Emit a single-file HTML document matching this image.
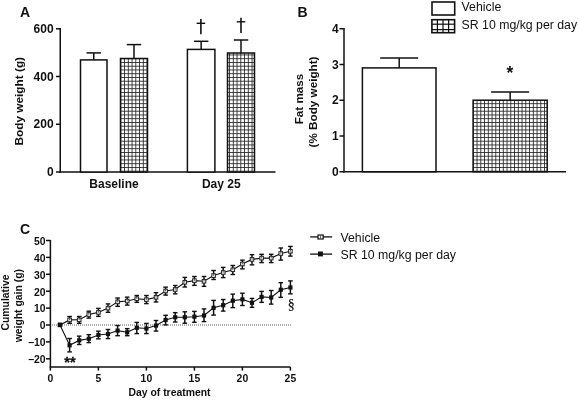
<!DOCTYPE html><html><head><meta charset="utf-8"><style>html,body{margin:0;padding:0;background:#fff;}svg{display:block;filter:grayscale(1)}</style></head><body>
<svg width="578" height="400" viewBox="0 0 578 400">
<defs>
<pattern id="grid" patternUnits="userSpaceOnUse" width="3.75" height="3.75" x="0.325" y="1.975"><rect width="3.75" height="3.75" fill="#fff"/><rect x="0" y="0" width="3.75" height="0.85" fill="#222"/><rect x="0" y="0" width="0.85" height="3.75" fill="#222"/></pattern>
</defs>
<rect width="578" height="400" fill="#fff"/>
<text x="20.00" y="16.90" font-family="Liberation Sans, sans-serif" font-size="14" font-weight="bold" text-anchor="start" fill="#111" >A</text>
<line x1="60.25" y1="28.00" x2="60.25" y2="172.75" stroke="#111" stroke-width="1.5" />
<line x1="59.50" y1="172.00" x2="275.50" y2="172.00" stroke="#111" stroke-width="1.5" />
<line x1="56.00" y1="172.00" x2="60.25" y2="172.00" stroke="#111" stroke-width="1.5" />
<text x="53.60" y="176.20" font-family="Liberation Sans, sans-serif" font-size="12" font-weight="bold" text-anchor="end" fill="#111" >0</text>
<line x1="56.00" y1="124.25" x2="60.25" y2="124.25" stroke="#111" stroke-width="1.5" />
<text x="53.60" y="128.45" font-family="Liberation Sans, sans-serif" font-size="12" font-weight="bold" text-anchor="end" fill="#111" >200</text>
<line x1="56.00" y1="76.50" x2="60.25" y2="76.50" stroke="#111" stroke-width="1.5" />
<text x="53.60" y="80.70" font-family="Liberation Sans, sans-serif" font-size="12" font-weight="bold" text-anchor="end" fill="#111" >400</text>
<line x1="56.00" y1="28.75" x2="60.25" y2="28.75" stroke="#111" stroke-width="1.5" />
<text x="53.60" y="32.95" font-family="Liberation Sans, sans-serif" font-size="12" font-weight="bold" text-anchor="end" fill="#111" >600</text>
<text transform="translate(23.2,101.2) rotate(-90)" font-family="Liberation Sans, sans-serif" font-size="11.8" font-weight="bold" text-anchor="middle" fill="#111">Body weight (g)</text>
<line x1="93.75" y1="59.90" x2="93.75" y2="52.90" stroke="#111" stroke-width="1.5" />
<line x1="86.55" y1="52.90" x2="100.95" y2="52.90" stroke="#111" stroke-width="1.5" />
<rect x="80.50" y="59.90" width="26.50" height="112.10" fill="#fff" stroke="#111" stroke-width="1.5"/>
<line x1="134.00" y1="58.50" x2="134.00" y2="44.60" stroke="#111" stroke-width="1.5" />
<line x1="126.80" y1="44.60" x2="141.20" y2="44.60" stroke="#111" stroke-width="1.5" />
<rect x="120.50" y="58.50" width="27.00" height="113.50" fill="url(#grid)" stroke="#111" stroke-width="1.5"/>
<line x1="201.15" y1="49.40" x2="201.15" y2="41.30" stroke="#111" stroke-width="1.5" />
<line x1="193.95" y1="41.30" x2="208.35" y2="41.30" stroke="#111" stroke-width="1.5" />
<rect x="187.40" y="49.40" width="27.50" height="122.60" fill="#fff" stroke="#111" stroke-width="1.5"/>
<line x1="241.00" y1="53.00" x2="241.00" y2="40.00" stroke="#111" stroke-width="1.5" />
<line x1="233.80" y1="40.00" x2="248.20" y2="40.00" stroke="#111" stroke-width="1.5" />
<rect x="227.50" y="53.00" width="27.00" height="119.00" fill="url(#grid)" stroke="#111" stroke-width="1.5"/>
<text x="114.00" y="188.00" font-family="Liberation Sans, sans-serif" font-size="12" font-weight="bold" text-anchor="middle" fill="#111" >Baseline</text>
<text x="221.30" y="188.10" font-family="Liberation Sans, sans-serif" font-size="12" font-weight="bold" text-anchor="middle" fill="#111" >Day 25</text>
<line x1="200.90" y1="18.90" x2="200.90" y2="34.20" stroke="#111" stroke-width="1.6" />
<line x1="196.60" y1="23.30" x2="205.20" y2="23.30" stroke="#111" stroke-width="1.4" />
<line x1="241.00" y1="17.70" x2="241.00" y2="33.00" stroke="#111" stroke-width="1.6" />
<line x1="236.70" y1="21.80" x2="245.30" y2="21.80" stroke="#111" stroke-width="1.4" />
<text x="297.60" y="16.90" font-family="Liberation Sans, sans-serif" font-size="14" font-weight="bold" text-anchor="start" fill="#111" >B</text>
<line x1="344.00" y1="28.00" x2="344.00" y2="172.50" stroke="#111" stroke-width="1.5" />
<line x1="343.25" y1="171.75" x2="566.00" y2="171.75" stroke="#111" stroke-width="1.5" />
<line x1="339.50" y1="171.75" x2="344.00" y2="171.75" stroke="#111" stroke-width="1.5" />
<text x="338.60" y="175.95" font-family="Liberation Sans, sans-serif" font-size="12" font-weight="bold" text-anchor="end" fill="#111" >0</text>
<line x1="339.50" y1="136.00" x2="344.00" y2="136.00" stroke="#111" stroke-width="1.5" />
<text x="338.60" y="140.20" font-family="Liberation Sans, sans-serif" font-size="12" font-weight="bold" text-anchor="end" fill="#111" >1</text>
<line x1="339.50" y1="100.25" x2="344.00" y2="100.25" stroke="#111" stroke-width="1.5" />
<text x="338.60" y="104.45" font-family="Liberation Sans, sans-serif" font-size="12" font-weight="bold" text-anchor="end" fill="#111" >2</text>
<line x1="339.50" y1="64.50" x2="344.00" y2="64.50" stroke="#111" stroke-width="1.5" />
<text x="338.60" y="68.70" font-family="Liberation Sans, sans-serif" font-size="12" font-weight="bold" text-anchor="end" fill="#111" >3</text>
<line x1="339.50" y1="28.75" x2="344.00" y2="28.75" stroke="#111" stroke-width="1.5" />
<text x="338.60" y="32.95" font-family="Liberation Sans, sans-serif" font-size="12" font-weight="bold" text-anchor="end" fill="#111" >4</text>
<text transform="translate(302.6,99.0) rotate(-90)" font-family="Liberation Sans, sans-serif" font-size="11.7" font-weight="bold" text-anchor="middle" fill="#111">Fat mass</text>
<text transform="translate(316.8,102.0) rotate(-90)" font-family="Liberation Sans, sans-serif" font-size="11.7" font-weight="bold" text-anchor="middle" fill="#111">(% Body weight)</text>
<line x1="399.20" y1="67.90" x2="399.20" y2="58.10" stroke="#111" stroke-width="1.5" />
<line x1="380.20" y1="58.10" x2="418.20" y2="58.10" stroke="#111" stroke-width="1.5" />
<rect x="362.40" y="67.90" width="73.60" height="103.85" fill="#fff" stroke="#111" stroke-width="1.5"/>
<line x1="510.15" y1="100.20" x2="510.15" y2="91.90" stroke="#111" stroke-width="1.5" />
<line x1="491.15" y1="91.90" x2="529.15" y2="91.90" stroke="#111" stroke-width="1.5" />
<rect x="473.10" y="100.20" width="74.10" height="71.55" fill="url(#grid)" stroke="#111" stroke-width="1.5"/>
<text x="509.85" y="78.5" font-family="Liberation Sans, sans-serif" font-size="17.5" font-weight="bold" text-anchor="middle" fill="#111">*</text>
<rect x="432.0" y="2.0" width="22.7" height="13.0" fill="#fff" stroke="#111" stroke-width="1.6"/>
<rect x="431.9" y="19.7" width="22.7" height="13.0" fill="#fff" stroke="#111" stroke-width="1.6"/>
<line x1="437.40" y1="19.70" x2="437.40" y2="32.70" stroke="#111" stroke-width="1.2" />
<line x1="443.00" y1="19.70" x2="443.00" y2="32.70" stroke="#111" stroke-width="1.2" />
<line x1="448.60" y1="19.70" x2="448.60" y2="32.70" stroke="#111" stroke-width="1.2" />
<line x1="431.90" y1="24.20" x2="454.60" y2="24.20" stroke="#111" stroke-width="1.2" />
<line x1="431.90" y1="29.60" x2="454.60" y2="29.60" stroke="#111" stroke-width="1.2" />
<text x="461.60" y="11.30" font-family="Liberation Sans, sans-serif" font-size="12.3"  text-anchor="start" fill="#111" >Vehicle</text>
<text x="461.60" y="28.90" font-family="Liberation Sans, sans-serif" font-size="12.3"  text-anchor="start" fill="#111" >SR 10 mg/kg per day</text>
<text x="20.00" y="234.10" font-family="Liberation Sans, sans-serif" font-size="14" font-weight="bold" text-anchor="start" fill="#111" >C</text>
<line x1="50.40" y1="240.00" x2="50.40" y2="370.60" stroke="#111" stroke-width="1.5" />
<line x1="49.65" y1="367.00" x2="290.40" y2="367.00" stroke="#111" stroke-width="1.5" />
<line x1="98.40" y1="367.00" x2="98.40" y2="370.60" stroke="#111" stroke-width="1.5" />
<line x1="146.40" y1="367.00" x2="146.40" y2="370.60" stroke="#111" stroke-width="1.5" />
<line x1="194.40" y1="367.00" x2="194.40" y2="370.60" stroke="#111" stroke-width="1.5" />
<line x1="242.40" y1="367.00" x2="242.40" y2="370.60" stroke="#111" stroke-width="1.5" />
<line x1="290.40" y1="367.00" x2="290.40" y2="370.60" stroke="#111" stroke-width="1.5" />
<text x="50.40" y="382.00" font-family="Liberation Sans, sans-serif" font-size="10.4" font-weight="bold" text-anchor="middle" fill="#111" >0</text>
<text x="98.40" y="382.00" font-family="Liberation Sans, sans-serif" font-size="10.4" font-weight="bold" text-anchor="middle" fill="#111" >5</text>
<text x="146.40" y="382.00" font-family="Liberation Sans, sans-serif" font-size="10.4" font-weight="bold" text-anchor="middle" fill="#111" >10</text>
<text x="194.40" y="382.00" font-family="Liberation Sans, sans-serif" font-size="10.4" font-weight="bold" text-anchor="middle" fill="#111" >15</text>
<text x="242.40" y="382.00" font-family="Liberation Sans, sans-serif" font-size="10.4" font-weight="bold" text-anchor="middle" fill="#111" >20</text>
<text x="290.40" y="382.00" font-family="Liberation Sans, sans-serif" font-size="10.4" font-weight="bold" text-anchor="middle" fill="#111" >25</text>
<line x1="46.00" y1="240.50" x2="50.40" y2="240.50" stroke="#111" stroke-width="1.5" />
<text x="45.60" y="244.80" font-family="Liberation Sans, sans-serif" font-size="10.4" font-weight="bold" text-anchor="end" fill="#111" >50</text>
<line x1="46.00" y1="257.40" x2="50.40" y2="257.40" stroke="#111" stroke-width="1.5" />
<text x="45.60" y="261.70" font-family="Liberation Sans, sans-serif" font-size="10.4" font-weight="bold" text-anchor="end" fill="#111" >40</text>
<line x1="46.00" y1="274.30" x2="50.40" y2="274.30" stroke="#111" stroke-width="1.5" />
<text x="45.60" y="278.60" font-family="Liberation Sans, sans-serif" font-size="10.4" font-weight="bold" text-anchor="end" fill="#111" >30</text>
<line x1="46.00" y1="291.20" x2="50.40" y2="291.20" stroke="#111" stroke-width="1.5" />
<text x="45.60" y="295.50" font-family="Liberation Sans, sans-serif" font-size="10.4" font-weight="bold" text-anchor="end" fill="#111" >20</text>
<line x1="46.00" y1="308.10" x2="50.40" y2="308.10" stroke="#111" stroke-width="1.5" />
<text x="45.60" y="312.40" font-family="Liberation Sans, sans-serif" font-size="10.4" font-weight="bold" text-anchor="end" fill="#111" >10</text>
<line x1="46.00" y1="325.00" x2="50.40" y2="325.00" stroke="#111" stroke-width="1.5" />
<text x="45.60" y="329.30" font-family="Liberation Sans, sans-serif" font-size="10.4" font-weight="bold" text-anchor="end" fill="#111" >0</text>
<line x1="46.00" y1="341.90" x2="50.40" y2="341.90" stroke="#111" stroke-width="1.5" />
<text x="45.60" y="346.20" font-family="Liberation Sans, sans-serif" font-size="10.4" font-weight="bold" text-anchor="end" fill="#111" >&#8722;10</text>
<line x1="46.00" y1="358.80" x2="50.40" y2="358.80" stroke="#111" stroke-width="1.5" />
<text x="45.60" y="363.10" font-family="Liberation Sans, sans-serif" font-size="10.4" font-weight="bold" text-anchor="end" fill="#111" >&#8722;20</text>
<text x="169.50" y="395.50" font-family="Liberation Sans, sans-serif" font-size="10.4" font-weight="bold" text-anchor="middle" fill="#111" >Day of treatment</text>
<text transform="translate(8.8,302.5) rotate(-90)" font-family="Liberation Sans, sans-serif" font-size="10.4" font-weight="bold" text-anchor="middle" fill="#111">Cumulative</text>
<text transform="translate(21.6,305.7) rotate(-90)" font-family="Liberation Sans, sans-serif" font-size="10.4" font-weight="bold" text-anchor="middle" fill="#111">weight gain (g)</text>
<line x1="52" y1="325" x2="291" y2="325" stroke="#666" stroke-width="1.2" stroke-dasharray="1 1"/>
<polyline points="60.00,324.90 69.60,319.90 79.20,319.80 88.80,314.50 98.40,312.40 108.00,308.10 117.60,301.90 127.20,301.00 136.80,298.75 146.40,299.60 156.00,297.25 165.60,291.00 175.20,289.50 184.80,282.25 194.40,280.60 204.00,281.25 213.60,275.60 223.20,272.50 232.80,269.75 242.40,264.00 252.00,259.40 261.60,258.10 271.20,258.10 280.80,253.50 290.40,251.25" fill="none" stroke="#111" stroke-width="1.1"/>
<line x1="69.60" y1="316.50" x2="69.60" y2="323.30" stroke="#111" stroke-width="1.5" />
<line x1="67.30" y1="316.50" x2="71.90" y2="316.50" stroke="#111" stroke-width="1.4" />
<line x1="67.30" y1="323.30" x2="71.90" y2="323.30" stroke="#111" stroke-width="1.4" />
<line x1="79.20" y1="316.50" x2="79.20" y2="323.30" stroke="#111" stroke-width="1.5" />
<line x1="76.90" y1="316.50" x2="81.50" y2="316.50" stroke="#111" stroke-width="1.4" />
<line x1="76.90" y1="323.30" x2="81.50" y2="323.30" stroke="#111" stroke-width="1.4" />
<line x1="88.80" y1="311.20" x2="88.80" y2="318.10" stroke="#111" stroke-width="1.5" />
<line x1="86.50" y1="311.20" x2="91.10" y2="311.20" stroke="#111" stroke-width="1.4" />
<line x1="86.50" y1="318.10" x2="91.10" y2="318.10" stroke="#111" stroke-width="1.4" />
<line x1="98.40" y1="308.40" x2="98.40" y2="316.40" stroke="#111" stroke-width="1.5" />
<line x1="96.10" y1="308.40" x2="100.70" y2="308.40" stroke="#111" stroke-width="1.4" />
<line x1="96.10" y1="316.40" x2="100.70" y2="316.40" stroke="#111" stroke-width="1.4" />
<line x1="108.00" y1="303.90" x2="108.00" y2="312.30" stroke="#111" stroke-width="1.5" />
<line x1="105.70" y1="303.90" x2="110.30" y2="303.90" stroke="#111" stroke-width="1.4" />
<line x1="105.70" y1="312.30" x2="110.30" y2="312.30" stroke="#111" stroke-width="1.4" />
<line x1="117.60" y1="298.00" x2="117.60" y2="306.35" stroke="#111" stroke-width="1.5" />
<line x1="115.30" y1="298.00" x2="119.90" y2="298.00" stroke="#111" stroke-width="1.4" />
<line x1="115.30" y1="306.35" x2="119.90" y2="306.35" stroke="#111" stroke-width="1.4" />
<line x1="127.20" y1="297.15" x2="127.20" y2="305.10" stroke="#111" stroke-width="1.5" />
<line x1="124.90" y1="297.15" x2="129.50" y2="297.15" stroke="#111" stroke-width="1.4" />
<line x1="124.90" y1="305.10" x2="129.50" y2="305.10" stroke="#111" stroke-width="1.4" />
<line x1="136.80" y1="295.50" x2="136.80" y2="302.35" stroke="#111" stroke-width="1.5" />
<line x1="134.50" y1="295.50" x2="139.10" y2="295.50" stroke="#111" stroke-width="1.4" />
<line x1="134.50" y1="302.35" x2="139.10" y2="302.35" stroke="#111" stroke-width="1.4" />
<line x1="146.40" y1="295.50" x2="146.40" y2="303.60" stroke="#111" stroke-width="1.5" />
<line x1="144.10" y1="295.50" x2="148.70" y2="295.50" stroke="#111" stroke-width="1.4" />
<line x1="144.10" y1="303.60" x2="148.70" y2="303.60" stroke="#111" stroke-width="1.4" />
<line x1="156.00" y1="292.65" x2="156.00" y2="302.00" stroke="#111" stroke-width="1.5" />
<line x1="153.70" y1="292.65" x2="158.30" y2="292.65" stroke="#111" stroke-width="1.4" />
<line x1="153.70" y1="302.00" x2="158.30" y2="302.00" stroke="#111" stroke-width="1.4" />
<line x1="165.60" y1="287.15" x2="165.60" y2="295.10" stroke="#111" stroke-width="1.5" />
<line x1="163.30" y1="287.15" x2="167.90" y2="287.15" stroke="#111" stroke-width="1.4" />
<line x1="163.30" y1="295.10" x2="167.90" y2="295.10" stroke="#111" stroke-width="1.4" />
<line x1="175.20" y1="285.50" x2="175.20" y2="293.85" stroke="#111" stroke-width="1.5" />
<line x1="172.90" y1="285.50" x2="177.50" y2="285.50" stroke="#111" stroke-width="1.4" />
<line x1="172.90" y1="293.85" x2="177.50" y2="293.85" stroke="#111" stroke-width="1.4" />
<line x1="184.80" y1="277.40" x2="184.80" y2="287.00" stroke="#111" stroke-width="1.5" />
<line x1="182.50" y1="277.40" x2="187.10" y2="277.40" stroke="#111" stroke-width="1.4" />
<line x1="182.50" y1="287.00" x2="187.10" y2="287.00" stroke="#111" stroke-width="1.4" />
<line x1="194.40" y1="276.50" x2="194.40" y2="285.35" stroke="#111" stroke-width="1.5" />
<line x1="192.10" y1="276.50" x2="196.70" y2="276.50" stroke="#111" stroke-width="1.4" />
<line x1="192.10" y1="285.35" x2="196.70" y2="285.35" stroke="#111" stroke-width="1.4" />
<line x1="204.00" y1="276.50" x2="204.00" y2="286.35" stroke="#111" stroke-width="1.5" />
<line x1="201.70" y1="276.50" x2="206.30" y2="276.50" stroke="#111" stroke-width="1.4" />
<line x1="201.70" y1="286.35" x2="206.30" y2="286.35" stroke="#111" stroke-width="1.4" />
<line x1="213.60" y1="270.50" x2="213.60" y2="279.50" stroke="#111" stroke-width="1.5" />
<line x1="211.30" y1="270.50" x2="215.90" y2="270.50" stroke="#111" stroke-width="1.4" />
<line x1="211.30" y1="279.50" x2="215.90" y2="279.50" stroke="#111" stroke-width="1.4" />
<line x1="223.20" y1="267.40" x2="223.20" y2="277.60" stroke="#111" stroke-width="1.5" />
<line x1="220.90" y1="267.40" x2="225.50" y2="267.40" stroke="#111" stroke-width="1.4" />
<line x1="220.90" y1="277.60" x2="225.50" y2="277.60" stroke="#111" stroke-width="1.4" />
<line x1="232.80" y1="265.50" x2="232.80" y2="274.50" stroke="#111" stroke-width="1.5" />
<line x1="230.50" y1="265.50" x2="235.10" y2="265.50" stroke="#111" stroke-width="1.4" />
<line x1="230.50" y1="274.50" x2="235.10" y2="274.50" stroke="#111" stroke-width="1.4" />
<line x1="242.40" y1="260.15" x2="242.40" y2="268.85" stroke="#111" stroke-width="1.5" />
<line x1="240.10" y1="260.15" x2="244.70" y2="260.15" stroke="#111" stroke-width="1.4" />
<line x1="240.10" y1="268.85" x2="244.70" y2="268.85" stroke="#111" stroke-width="1.4" />
<line x1="252.00" y1="254.65" x2="252.00" y2="264.85" stroke="#111" stroke-width="1.5" />
<line x1="249.70" y1="254.65" x2="254.30" y2="254.65" stroke="#111" stroke-width="1.4" />
<line x1="249.70" y1="264.85" x2="254.30" y2="264.85" stroke="#111" stroke-width="1.4" />
<line x1="261.60" y1="254.30" x2="261.60" y2="262.60" stroke="#111" stroke-width="1.5" />
<line x1="259.30" y1="254.30" x2="263.90" y2="254.30" stroke="#111" stroke-width="1.4" />
<line x1="259.30" y1="262.60" x2="263.90" y2="262.60" stroke="#111" stroke-width="1.4" />
<line x1="271.20" y1="254.30" x2="271.20" y2="262.60" stroke="#111" stroke-width="1.5" />
<line x1="268.90" y1="254.30" x2="273.50" y2="254.30" stroke="#111" stroke-width="1.4" />
<line x1="268.90" y1="262.60" x2="273.50" y2="262.60" stroke="#111" stroke-width="1.4" />
<line x1="280.80" y1="248.00" x2="280.80" y2="260.10" stroke="#111" stroke-width="1.5" />
<line x1="278.50" y1="248.00" x2="283.10" y2="248.00" stroke="#111" stroke-width="1.4" />
<line x1="278.50" y1="260.10" x2="283.10" y2="260.10" stroke="#111" stroke-width="1.4" />
<line x1="290.40" y1="246.40" x2="290.40" y2="256.10" stroke="#111" stroke-width="1.5" />
<line x1="288.10" y1="246.40" x2="292.70" y2="246.40" stroke="#111" stroke-width="1.4" />
<line x1="288.10" y1="256.10" x2="292.70" y2="256.10" stroke="#111" stroke-width="1.4" />
<rect x="58.20" y="323.10" width="3.6" height="3.6" fill="#f4f4f4" stroke="#222" stroke-width="1.0"/>
<rect x="67.80" y="318.10" width="3.6" height="3.6" fill="#f4f4f4" stroke="#222" stroke-width="1.0"/>
<line x1="69.60" y1="318.10" x2="69.60" y2="320.20" stroke="#555" stroke-width="0.9" />
<rect x="77.40" y="318.00" width="3.6" height="3.6" fill="#f4f4f4" stroke="#222" stroke-width="1.0"/>
<line x1="79.20" y1="318.00" x2="79.20" y2="320.10" stroke="#555" stroke-width="0.9" />
<rect x="87.00" y="312.70" width="3.6" height="3.6" fill="#f4f4f4" stroke="#222" stroke-width="1.0"/>
<line x1="88.80" y1="312.70" x2="88.80" y2="314.80" stroke="#555" stroke-width="0.9" />
<rect x="96.60" y="310.60" width="3.6" height="3.6" fill="#f4f4f4" stroke="#222" stroke-width="1.0"/>
<line x1="98.40" y1="310.60" x2="98.40" y2="312.70" stroke="#555" stroke-width="0.9" />
<rect x="106.20" y="306.30" width="3.6" height="3.6" fill="#f4f4f4" stroke="#222" stroke-width="1.0"/>
<line x1="108.00" y1="306.30" x2="108.00" y2="308.40" stroke="#555" stroke-width="0.9" />
<rect x="115.80" y="300.10" width="3.6" height="3.6" fill="#f4f4f4" stroke="#222" stroke-width="1.0"/>
<line x1="117.60" y1="300.10" x2="117.60" y2="302.20" stroke="#555" stroke-width="0.9" />
<rect x="125.40" y="299.20" width="3.6" height="3.6" fill="#f4f4f4" stroke="#222" stroke-width="1.0"/>
<line x1="127.20" y1="299.20" x2="127.20" y2="301.30" stroke="#555" stroke-width="0.9" />
<rect x="135.00" y="296.95" width="3.6" height="3.6" fill="#f4f4f4" stroke="#222" stroke-width="1.0"/>
<line x1="136.80" y1="296.95" x2="136.80" y2="299.05" stroke="#555" stroke-width="0.9" />
<rect x="144.60" y="297.80" width="3.6" height="3.6" fill="#f4f4f4" stroke="#222" stroke-width="1.0"/>
<line x1="146.40" y1="297.80" x2="146.40" y2="299.90" stroke="#555" stroke-width="0.9" />
<rect x="154.20" y="295.45" width="3.6" height="3.6" fill="#f4f4f4" stroke="#222" stroke-width="1.0"/>
<line x1="156.00" y1="295.45" x2="156.00" y2="297.55" stroke="#555" stroke-width="0.9" />
<rect x="163.80" y="289.20" width="3.6" height="3.6" fill="#f4f4f4" stroke="#222" stroke-width="1.0"/>
<line x1="165.60" y1="289.20" x2="165.60" y2="291.30" stroke="#555" stroke-width="0.9" />
<rect x="173.40" y="287.70" width="3.6" height="3.6" fill="#f4f4f4" stroke="#222" stroke-width="1.0"/>
<line x1="175.20" y1="287.70" x2="175.20" y2="289.80" stroke="#555" stroke-width="0.9" />
<rect x="183.00" y="280.45" width="3.6" height="3.6" fill="#f4f4f4" stroke="#222" stroke-width="1.0"/>
<line x1="184.80" y1="280.45" x2="184.80" y2="282.55" stroke="#555" stroke-width="0.9" />
<rect x="192.60" y="278.80" width="3.6" height="3.6" fill="#f4f4f4" stroke="#222" stroke-width="1.0"/>
<line x1="194.40" y1="278.80" x2="194.40" y2="280.90" stroke="#555" stroke-width="0.9" />
<rect x="202.20" y="279.45" width="3.6" height="3.6" fill="#f4f4f4" stroke="#222" stroke-width="1.0"/>
<line x1="204.00" y1="279.45" x2="204.00" y2="281.55" stroke="#555" stroke-width="0.9" />
<rect x="211.80" y="273.80" width="3.6" height="3.6" fill="#f4f4f4" stroke="#222" stroke-width="1.0"/>
<line x1="213.60" y1="273.80" x2="213.60" y2="275.90" stroke="#555" stroke-width="0.9" />
<rect x="221.40" y="270.70" width="3.6" height="3.6" fill="#f4f4f4" stroke="#222" stroke-width="1.0"/>
<line x1="223.20" y1="270.70" x2="223.20" y2="272.80" stroke="#555" stroke-width="0.9" />
<rect x="231.00" y="267.95" width="3.6" height="3.6" fill="#f4f4f4" stroke="#222" stroke-width="1.0"/>
<line x1="232.80" y1="267.95" x2="232.80" y2="270.05" stroke="#555" stroke-width="0.9" />
<rect x="240.60" y="262.20" width="3.6" height="3.6" fill="#f4f4f4" stroke="#222" stroke-width="1.0"/>
<line x1="242.40" y1="262.20" x2="242.40" y2="264.30" stroke="#555" stroke-width="0.9" />
<rect x="250.20" y="257.60" width="3.6" height="3.6" fill="#f4f4f4" stroke="#222" stroke-width="1.0"/>
<line x1="252.00" y1="257.60" x2="252.00" y2="259.70" stroke="#555" stroke-width="0.9" />
<rect x="259.80" y="256.30" width="3.6" height="3.6" fill="#f4f4f4" stroke="#222" stroke-width="1.0"/>
<line x1="261.60" y1="256.30" x2="261.60" y2="258.40" stroke="#555" stroke-width="0.9" />
<rect x="269.40" y="256.30" width="3.6" height="3.6" fill="#f4f4f4" stroke="#222" stroke-width="1.0"/>
<line x1="271.20" y1="256.30" x2="271.20" y2="258.40" stroke="#555" stroke-width="0.9" />
<rect x="279.00" y="251.70" width="3.6" height="3.6" fill="#f4f4f4" stroke="#222" stroke-width="1.0"/>
<line x1="280.80" y1="251.70" x2="280.80" y2="253.80" stroke="#555" stroke-width="0.9" />
<rect x="288.60" y="249.45" width="3.6" height="3.6" fill="#f4f4f4" stroke="#222" stroke-width="1.0"/>
<line x1="290.40" y1="249.45" x2="290.40" y2="251.55" stroke="#555" stroke-width="0.9" />
<polyline points="60.00,324.90 69.60,345.30 79.20,340.40 88.80,338.75 98.40,335.00 108.00,334.00 117.60,330.60 127.20,332.25 136.80,327.75 146.40,328.50 156.00,325.60 165.60,320.00 175.20,317.25 184.80,317.25 194.40,316.70 204.00,315.50 213.60,307.80 223.20,305.20 232.80,300.70 242.40,299.40 252.00,302.75 261.60,296.90 271.20,297.50 280.80,289.75 290.40,287.50" fill="none" stroke="#111" stroke-width="1.1"/>
<line x1="69.60" y1="338.50" x2="69.60" y2="351.90" stroke="#111" stroke-width="1.5" />
<line x1="67.30" y1="338.50" x2="71.90" y2="338.50" stroke="#111" stroke-width="1.4" />
<line x1="67.30" y1="351.90" x2="71.90" y2="351.90" stroke="#111" stroke-width="1.4" />
<line x1="79.20" y1="336.15" x2="79.20" y2="344.50" stroke="#111" stroke-width="1.5" />
<line x1="76.90" y1="336.15" x2="81.50" y2="336.15" stroke="#111" stroke-width="1.4" />
<line x1="76.90" y1="344.50" x2="81.50" y2="344.50" stroke="#111" stroke-width="1.4" />
<line x1="88.80" y1="334.65" x2="88.80" y2="342.60" stroke="#111" stroke-width="1.5" />
<line x1="86.50" y1="334.65" x2="91.10" y2="334.65" stroke="#111" stroke-width="1.4" />
<line x1="86.50" y1="342.60" x2="91.10" y2="342.60" stroke="#111" stroke-width="1.4" />
<line x1="98.40" y1="331.15" x2="98.40" y2="338.85" stroke="#111" stroke-width="1.5" />
<line x1="96.10" y1="331.15" x2="100.70" y2="331.15" stroke="#111" stroke-width="1.4" />
<line x1="96.10" y1="338.85" x2="100.70" y2="338.85" stroke="#111" stroke-width="1.4" />
<line x1="108.00" y1="329.50" x2="108.00" y2="338.60" stroke="#111" stroke-width="1.5" />
<line x1="105.70" y1="329.50" x2="110.30" y2="329.50" stroke="#111" stroke-width="1.4" />
<line x1="105.70" y1="338.60" x2="110.30" y2="338.60" stroke="#111" stroke-width="1.4" />
<line x1="117.60" y1="325.50" x2="117.60" y2="335.70" stroke="#111" stroke-width="1.5" />
<line x1="115.30" y1="325.50" x2="119.90" y2="325.50" stroke="#111" stroke-width="1.4" />
<line x1="115.30" y1="335.70" x2="119.90" y2="335.70" stroke="#111" stroke-width="1.4" />
<line x1="127.20" y1="328.65" x2="127.20" y2="335.70" stroke="#111" stroke-width="1.5" />
<line x1="124.90" y1="328.65" x2="129.50" y2="328.65" stroke="#111" stroke-width="1.4" />
<line x1="124.90" y1="335.70" x2="129.50" y2="335.70" stroke="#111" stroke-width="1.4" />
<line x1="136.80" y1="322.40" x2="136.80" y2="333.60" stroke="#111" stroke-width="1.5" />
<line x1="134.50" y1="322.40" x2="139.10" y2="322.40" stroke="#111" stroke-width="1.4" />
<line x1="134.50" y1="333.60" x2="139.10" y2="333.60" stroke="#111" stroke-width="1.4" />
<line x1="146.40" y1="323.40" x2="146.40" y2="333.60" stroke="#111" stroke-width="1.5" />
<line x1="144.10" y1="323.40" x2="148.70" y2="323.40" stroke="#111" stroke-width="1.4" />
<line x1="144.10" y1="333.60" x2="148.70" y2="333.60" stroke="#111" stroke-width="1.4" />
<line x1="156.00" y1="320.50" x2="156.00" y2="331.10" stroke="#111" stroke-width="1.5" />
<line x1="153.70" y1="320.50" x2="158.30" y2="320.50" stroke="#111" stroke-width="1.4" />
<line x1="153.70" y1="331.10" x2="158.30" y2="331.10" stroke="#111" stroke-width="1.4" />
<line x1="165.60" y1="315.30" x2="165.60" y2="324.85" stroke="#111" stroke-width="1.5" />
<line x1="163.30" y1="315.30" x2="167.90" y2="315.30" stroke="#111" stroke-width="1.4" />
<line x1="163.30" y1="324.85" x2="167.90" y2="324.85" stroke="#111" stroke-width="1.4" />
<line x1="175.20" y1="312.65" x2="175.20" y2="322.00" stroke="#111" stroke-width="1.5" />
<line x1="172.90" y1="312.65" x2="177.50" y2="312.65" stroke="#111" stroke-width="1.4" />
<line x1="172.90" y1="322.00" x2="177.50" y2="322.00" stroke="#111" stroke-width="1.4" />
<line x1="184.80" y1="311.80" x2="184.80" y2="323.20" stroke="#111" stroke-width="1.5" />
<line x1="182.50" y1="311.80" x2="187.10" y2="311.80" stroke="#111" stroke-width="1.4" />
<line x1="182.50" y1="323.20" x2="187.10" y2="323.20" stroke="#111" stroke-width="1.4" />
<line x1="194.40" y1="311.40" x2="194.40" y2="322.30" stroke="#111" stroke-width="1.5" />
<line x1="192.10" y1="311.40" x2="196.70" y2="311.40" stroke="#111" stroke-width="1.4" />
<line x1="192.10" y1="322.30" x2="196.70" y2="322.30" stroke="#111" stroke-width="1.4" />
<line x1="204.00" y1="308.90" x2="204.00" y2="321.60" stroke="#111" stroke-width="1.5" />
<line x1="201.70" y1="308.90" x2="206.30" y2="308.90" stroke="#111" stroke-width="1.4" />
<line x1="201.70" y1="321.60" x2="206.30" y2="321.60" stroke="#111" stroke-width="1.4" />
<line x1="213.60" y1="300.40" x2="213.60" y2="315.10" stroke="#111" stroke-width="1.5" />
<line x1="211.30" y1="300.40" x2="215.90" y2="300.40" stroke="#111" stroke-width="1.4" />
<line x1="211.30" y1="315.10" x2="215.90" y2="315.10" stroke="#111" stroke-width="1.4" />
<line x1="223.20" y1="299.50" x2="223.20" y2="311.10" stroke="#111" stroke-width="1.5" />
<line x1="220.90" y1="299.50" x2="225.50" y2="299.50" stroke="#111" stroke-width="1.4" />
<line x1="220.90" y1="311.10" x2="225.50" y2="311.10" stroke="#111" stroke-width="1.4" />
<line x1="232.80" y1="294.10" x2="232.80" y2="307.60" stroke="#111" stroke-width="1.5" />
<line x1="230.50" y1="294.10" x2="235.10" y2="294.10" stroke="#111" stroke-width="1.4" />
<line x1="230.50" y1="307.60" x2="235.10" y2="307.60" stroke="#111" stroke-width="1.4" />
<line x1="242.40" y1="293.20" x2="242.40" y2="305.50" stroke="#111" stroke-width="1.5" />
<line x1="240.10" y1="293.20" x2="244.70" y2="293.20" stroke="#111" stroke-width="1.4" />
<line x1="240.10" y1="305.50" x2="244.70" y2="305.50" stroke="#111" stroke-width="1.4" />
<line x1="252.00" y1="298.40" x2="252.00" y2="307.35" stroke="#111" stroke-width="1.5" />
<line x1="249.70" y1="298.40" x2="254.30" y2="298.40" stroke="#111" stroke-width="1.4" />
<line x1="249.70" y1="307.35" x2="254.30" y2="307.35" stroke="#111" stroke-width="1.4" />
<line x1="261.60" y1="291.40" x2="261.60" y2="302.35" stroke="#111" stroke-width="1.5" />
<line x1="259.30" y1="291.40" x2="263.90" y2="291.40" stroke="#111" stroke-width="1.4" />
<line x1="259.30" y1="302.35" x2="263.90" y2="302.35" stroke="#111" stroke-width="1.4" />
<line x1="271.20" y1="290.50" x2="271.20" y2="304.10" stroke="#111" stroke-width="1.5" />
<line x1="268.90" y1="290.50" x2="273.50" y2="290.50" stroke="#111" stroke-width="1.4" />
<line x1="268.90" y1="304.10" x2="273.50" y2="304.10" stroke="#111" stroke-width="1.4" />
<line x1="280.80" y1="282.65" x2="280.80" y2="297.35" stroke="#111" stroke-width="1.5" />
<line x1="278.50" y1="282.65" x2="283.10" y2="282.65" stroke="#111" stroke-width="1.4" />
<line x1="278.50" y1="297.35" x2="283.10" y2="297.35" stroke="#111" stroke-width="1.4" />
<line x1="290.40" y1="280.90" x2="290.40" y2="293.85" stroke="#111" stroke-width="1.5" />
<line x1="288.10" y1="280.90" x2="292.70" y2="280.90" stroke="#111" stroke-width="1.4" />
<line x1="288.10" y1="293.85" x2="292.70" y2="293.85" stroke="#111" stroke-width="1.4" />
<rect x="57.90" y="322.80" width="4.2" height="4.2" fill="#111"/>
<rect x="67.50" y="343.20" width="4.2" height="4.2" fill="#111"/>
<rect x="77.10" y="338.30" width="4.2" height="4.2" fill="#111"/>
<rect x="86.70" y="336.65" width="4.2" height="4.2" fill="#111"/>
<rect x="96.30" y="332.90" width="4.2" height="4.2" fill="#111"/>
<rect x="105.90" y="331.90" width="4.2" height="4.2" fill="#111"/>
<rect x="115.50" y="328.50" width="4.2" height="4.2" fill="#111"/>
<rect x="125.10" y="330.15" width="4.2" height="4.2" fill="#111"/>
<rect x="134.70" y="325.65" width="4.2" height="4.2" fill="#111"/>
<rect x="144.30" y="326.40" width="4.2" height="4.2" fill="#111"/>
<rect x="153.90" y="323.50" width="4.2" height="4.2" fill="#111"/>
<rect x="163.50" y="317.90" width="4.2" height="4.2" fill="#111"/>
<rect x="173.10" y="315.15" width="4.2" height="4.2" fill="#111"/>
<rect x="182.70" y="315.15" width="4.2" height="4.2" fill="#111"/>
<rect x="192.30" y="314.60" width="4.2" height="4.2" fill="#111"/>
<rect x="201.90" y="313.40" width="4.2" height="4.2" fill="#111"/>
<rect x="211.50" y="305.70" width="4.2" height="4.2" fill="#111"/>
<rect x="221.10" y="303.10" width="4.2" height="4.2" fill="#111"/>
<rect x="230.70" y="298.60" width="4.2" height="4.2" fill="#111"/>
<rect x="240.30" y="297.30" width="4.2" height="4.2" fill="#111"/>
<rect x="249.90" y="300.65" width="4.2" height="4.2" fill="#111"/>
<rect x="259.50" y="294.80" width="4.2" height="4.2" fill="#111"/>
<rect x="269.10" y="295.40" width="4.2" height="4.2" fill="#111"/>
<rect x="278.70" y="287.65" width="4.2" height="4.2" fill="#111"/>
<rect x="288.30" y="285.40" width="4.2" height="4.2" fill="#111"/>
<text x="70.0" y="367.0" font-family="Liberation Sans, sans-serif" font-size="14.5" font-weight="bold" text-anchor="middle" fill="#111" stroke="#111" stroke-width="0.3">**</text>
<text x="291.2" y="308.9" font-family="Liberation Serif, serif" font-size="14" text-anchor="middle" fill="#111" stroke="#111" stroke-width="0.2">&#167;</text>
<line x1="310.20" y1="236.90" x2="332.20" y2="236.90" stroke="#111" stroke-width="1.3" />
<rect x="318.0" y="235.0" width="5.2" height="4.0" fill="#f4f4f4" stroke="#111" stroke-width="1.2"/>
<line x1="320.60" y1="235.00" x2="320.60" y2="239.00" stroke="#555" stroke-width="0.9" />
<line x1="310.20" y1="254.10" x2="332.20" y2="254.10" stroke="#111" stroke-width="1.3" />
<rect x="318.0" y="251.5" width="4.9" height="4.9" fill="#111"/>
<text x="340.50" y="241.90" font-family="Liberation Sans, sans-serif" font-size="12.3"  text-anchor="start" fill="#111" >Vehicle</text>
<text x="340.50" y="258.70" font-family="Liberation Sans, sans-serif" font-size="12.3"  text-anchor="start" fill="#111" >SR 10 mg/kg per day</text>
</svg></body></html>
